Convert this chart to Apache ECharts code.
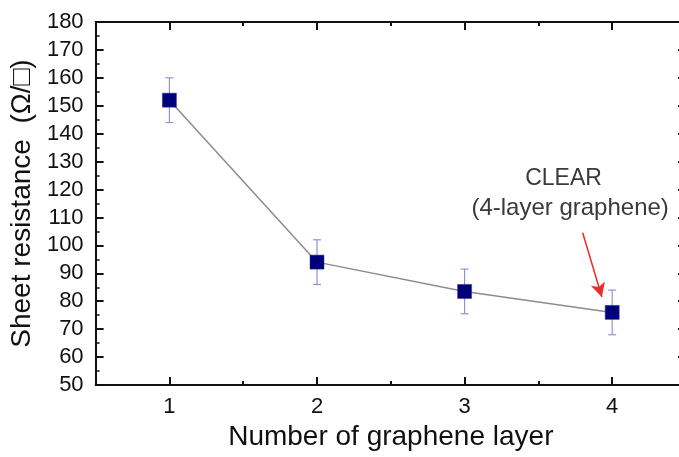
<!DOCTYPE html>
<html>
<head>
<meta charset="utf-8">
<script src="https://cdn.jsdelivr.net/npm/echarts@6/dist/echarts.min.js"></script>
<style>
  html, body { margin: 0; padding: 0; background: #fff; overflow: hidden; }
  /* the plot frame runs slightly past the right edge of the view */
  #frame { width: 679px; height: 457px; overflow: hidden; position: relative; }
  #chart { width: 700px; height: 457px; position: absolute; left: 0; top: 0; }
</style>
</head>
<body>
<div id="frame"><div id="chart"></div></div>
<script>
// Sheet resistance versus number of stacked graphene layers
const layers = [1, 2, 3, 4];
const resistance = [152, 94, 83.5, 76];
const errorBar = [8, 8, 8, 8];
const yTicks = [50, 60, 70, 80, 90, 100, 110, 120, 130, 140, 150, 160, 170, 180];
const majorX = [1, 2, 3, 4];
const minorX = [1.5, 2.5, 3.5];
const annotTitle = 'CLEAR';
const annotSub = '(4-layer graphene)';
const annotLayer = 4;

const tickFont = '"Liberation Sans Narrow", "Arial Narrow", "Liberation Sans", sans-serif';
const titleFont = '"Liberation Sans", Arial, sans-serif';
const axisColor = '#111';

const chart = echarts.init(document.getElementById('chart'), null, { renderer: 'canvas' });

const pointData = layers.map((x, i) => [x, resistance[i]]);
const errData = layers.map((x, i) => [x, resistance[i] - errorBar[i], resistance[i] + errorBar[i]]);

function xAxisBase(pos, values, len, showLabel, showLine, extra) {
  return Object.assign({
    type: 'value', position: pos, min: 0.5, max: 4.5,
    axisLine: { show: showLine, onZero: false, lineStyle: { color: axisColor, width: 2 } },
    axisTick: { show: true, inside: true, length: len, customValues: values,
                lineStyle: { color: axisColor, width: 2 } },
    axisLabel: { show: showLabel, customValues: values, margin: 11,
                 fontFamily: tickFont, fontSize: 22, color: '#111' },
    splitLine: { show: false }
  }, extra || {});
}

function yAxisBase(pos, showLabel, extra) {
  return Object.assign({
    type: 'value', position: pos, min: 50, max: 180, interval: 10,
    axisLine: { show: true, onZero: false, lineStyle: { color: axisColor, width: 2 } },
    axisTick: { show: true, inside: true, length: 8, lineStyle: { color: axisColor, width: 2 } },
    minorTick: { show: true, splitNumber: 2, length: 4, lineStyle: { color: axisColor, width: 1.5 } },
    axisLabel: { show: showLabel, margin: 12, fontFamily: tickFont, fontSize: 22, color: '#111',
                 formatter: v => (yTicks.indexOf(v) >= 0 ? String(v) : '') },
    splitLine: { show: false }
  }, extra || {});
}

const option = {
  animation: false,
  backgroundColor: '#fff',
  grid: { left: 95, width: 591, top: 22, height: 363, containLabel: false },
  xAxis: [
    xAxisBase('bottom', majorX, 8, true, true, {
      name: 'Number of graphene layer', nameLocation: 'middle', nameGap: 38,
      nameTextStyle: { fontFamily: titleFont, fontSize: 28, color: '#111' }
    }),
    xAxisBase('bottom', minorX, 4, false, false),
    xAxisBase('top', majorX, 8, false, true),
    xAxisBase('top', minorX, 4, false, false)
  ],
  yAxis: [
    yAxisBase('left', true, {
      name: 'Sheet resistance  (Ω/□)', nameLocation: 'middle', nameGap: 49,
      nameTextStyle: { fontFamily: titleFont, fontSize: 28, color: '#111' }
    }),
    yAxisBase('right', false)
  ],
  series: [
    {
      type: 'custom',
      xAxisIndex: 0, yAxisIndex: 0,
      data: errData,
      z: 2,
      renderItem: function (params, api) {
        const x = api.value(0);
        const lo = api.coord([x, api.value(1)]);
        const hi = api.coord([x, api.value(2)]);
        const cap = 4;
        const style = { stroke: '#8f93dc', lineWidth: 1.2, fill: null };
        return {
          type: 'group',
          children: [
            { type: 'line', shape: { x1: lo[0], y1: lo[1], x2: hi[0], y2: hi[1] }, style: style },
            { type: 'line', shape: { x1: lo[0] - cap, y1: lo[1], x2: lo[0] + cap, y2: lo[1] }, style: style },
            { type: 'line', shape: { x1: hi[0] - cap, y1: hi[1], x2: hi[0] + cap, y2: hi[1] }, style: style }
          ]
        };
      }
    },
    {
      type: 'line',
      xAxisIndex: 0, yAxisIndex: 0,
      data: pointData,
      z: 3,
      symbol: 'rect',
      symbolSize: 14,
      lineStyle: { color: '#8c8c8c', width: 1.5 },
      itemStyle: { color: '#00007a', borderColor: '#2a2a9a', borderWidth: 0.5 },
      markLine: {
        silent: true,
        symbol: ['none', 'arrow'],
        symbolSize: [11, 14],
        label: { show: false },
        lineStyle: { color: '#ee2b2b', width: 1.5, type: 'solid' },
        data: [[
          { coord: [annotLayer - 0.2, 104.5] },
          { coord: [annotLayer - 0.07, 81.5] }
        ]]
      }
    }
  ]
};

chart.setOption(option);

// annotation text above the arrow, anchored in data coordinates
const pTitle = chart.convertToPixel({ xAxisIndex: 0, yAxisIndex: 0 }, [annotLayer - 0.33, 124]);
const pSub = chart.convertToPixel({ xAxisIndex: 0, yAxisIndex: 0 }, [annotLayer - 0.285, 113.3]);
chart.setOption({
  graphic: [
    { type: 'text', x: pTitle[0], y: pTitle[1], z: 10,
      style: { text: annotTitle, fontFamily: titleFont, fontSize: 23, fill: '#3a3a3a',
               align: 'center', verticalAlign: 'middle' } },
    { type: 'text', x: pSub[0], y: pSub[1], z: 10,
      style: { text: annotSub, fontFamily: titleFont, fontSize: 24, fill: '#3a3a3a',
               align: 'center', verticalAlign: 'middle' } }
  ]
});
</script>
</body>
</html>
